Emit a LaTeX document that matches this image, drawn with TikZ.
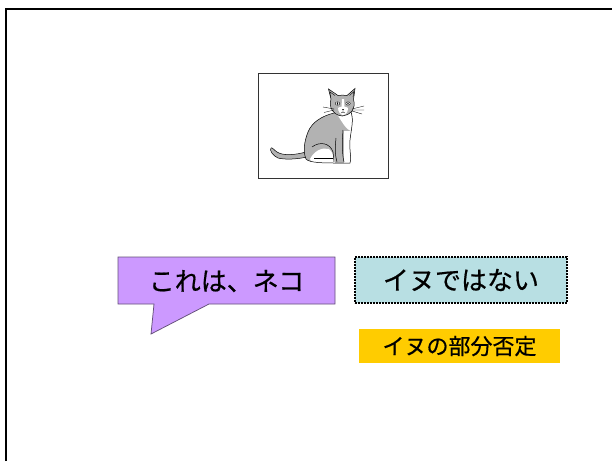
\documentclass[tikz,border=0pt]{standalone}
\usepackage{fontspec}
\setmainfont{Noto Sans CJK JP}[FakeBold=0.6]
\usepackage{xcolor}
\definecolor{lilac}{RGB}{204,153,255}
\definecolor{lilacline}{RGB}{100,80,120}
\definecolor{mist}{RGB}{184,223,227}
\definecolor{amber}{RGB}{255,204,0}
\definecolor{fur}{RGB}{178,178,178}
\tikzstyle{big}=[font=\fontsize{26}{30}\selectfont]
\tikzstyle{dotbox}=[draw,line width=2pt,dash pattern=on 1.6pt off 1.4pt,fill=mist,minimum width=212pt,minimum height=46pt,big]
\tikzstyle{tag}=[fill=amber,minimum width=201pt,minimum height=34pt,font=\fontsize{22}{26}\selectfont]
\tikzstyle{thin}=[line width=0.5pt]
\tikzstyle{whisk}=[line width=0.35pt]

\begin{document}
\begin{tikzpicture}[x=1pt,y=-1pt]
\useasboundingbox (0,0) rectangle (612,461);
\draw[line width=2pt,line join=miter] (6,461) -- (6,9) -- (612,9);

% picture frame and the cat inside it
\node[draw=black!80,line width=1pt,minimum width=130pt,minimum height=105pt] (photo) at (323.5,126) {};
\def\catbody{(334,113) .. controls (322,116) and (312,122) .. (308,132)
  .. controls (304,142) and (303,152) .. (306,159)
  .. controls (309,163) and (325,163) .. (336,163) -- (350,163)
  .. controls (352,160) and (349,150) .. (350,140)
  .. controls (351,130) and (354,120) .. (351,112) -- cycle}
\def\cathead{(331,108) .. controls (330,104) and (330,101) .. (331,99) -- (328.5,89) -- (338,95.5)
  .. controls (341,95) and (344,95) .. (347,95.5) -- (355,88.5) -- (353.5,99.5)
  .. controls (355,104) and (354,108) .. (352,111) .. controls (349,114) and (346,116) .. (342.5,116)
  .. controls (338,116) and (333,113) .. (331,108) -- cycle}
\filldraw[fill=fur,thin] (306,152) .. controls (295,155) and (283,156) .. (277,152)
  .. controls (274,150) and (272,147) .. (271,148) .. controls (269,150) and (273,156) .. (278,158)
  .. controls (286,160) and (298,159) .. (307,157);
\fill[fur] \catbody;
\fill[white] (337,114) -- (351,113) .. controls (353,120) and (352,126) .. (351,131)
  .. controls (347,130) and (343,124) .. (337,114) -- cycle;
\fill[white] (344,131) -- (351,131) .. controls (350,145) and (350,155) .. (351,163) -- (344,163) -- cycle;
\fill[white] (310,159) .. controls (314,151) and (322,147) .. (329,149)
  .. controls (333,152) and (334,158) .. (335,163) -- (312,163) -- cycle;
\draw[thin] \catbody;
\draw[thin] (336,138) .. controls (335,148) and (335,156) .. (337,162);
\draw[thin] (343,130) .. controls (342,142) and (342,154) .. (344,162);
\draw[thin] (312,147) .. controls (320,141) and (330,143) .. (333,152) -- (334,162);
\draw[thin] (314,158) -- (333,158);
\filldraw[fill=fur,thin] \cathead;
\fill[white] (338,108) .. controls (338,112) and (341,115) .. (343,115)
  .. controls (346,115) and (348,112) .. (348,108) .. controls (346,106) and (340,106) .. (338,108);
\fill[white] (342,99) -- (344,99) -- (344.5,107) -- (341.5,107) -- cycle;
\draw[whisk] (330.5,97) -- (330,92) -- (335,95.5) (349.5,95.5) -- (354,91.5) -- (353,97);
\filldraw[fill=white,whisk] (337.5,103.5) ellipse (2.3 and 1.7) (348,103.5) ellipse (2.3 and 1.7);
\fill (337.5,103.5) ellipse (0.7 and 1.4) (348,103.5) ellipse (0.7 and 1.4);
\fill (342,109) -- (344,109) -- (343,110.5) -- cycle;
\draw[whisk] (343,110.5) -- (343,112) (341,113) .. controls (342,113) .. (343,112) .. controls (344,113) .. (345,113);
\draw[whisk] (334,109) -- (323,107) (334,110) -- (324,112.5)
  (352,109) -- (364,106) (352,110) -- (364,110) (352,111) -- (362,114);

% speech bubble
\filldraw[fill=lilac,draw=lilacline,line width=0.75pt]
  (118,257) -- (335,257) -- (335,304) -- (209,304) -- (151,334) -- (154,304) -- (118,304) -- cycle;
\node[big] (neko) at (226.5,281) {これは、ネコ};

\node[dotbox] (inu) at (461,280) {イヌではない};
\node[tag] (bubun) at (459.5,346) {イヌの部分否定};
\end{tikzpicture}
\end{document}
